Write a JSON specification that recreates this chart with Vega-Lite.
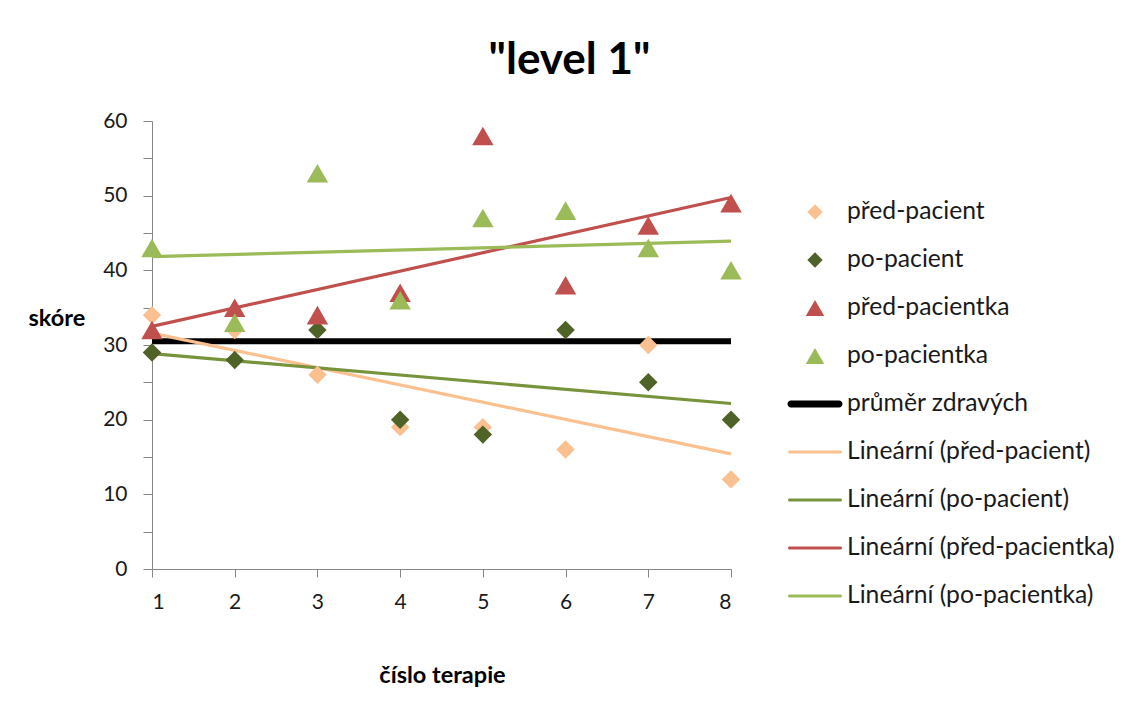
{
  "$schema": "https://vega.github.io/schema/vega-lite/v6.json",
  "autosize": "none",
  "width": 579,
  "height": 448,
  "padding": {"left": 152, "top": 121, "right": 395, "bottom": 136},
  "background": "white",
  "title": {"text": "\"level 1\"", "font": "Lato", "fontSize": 44, "fontWeight": "bold", "color": "#000000", "anchor": "middle", "frame": "group", "dx": 128, "offset": 27},
  "config": {
    "view": {"stroke": null},
    "axis": {"grid": false, "domainColor": "#868686", "tickColor": "#868686", "domainWidth": 1, "tickWidth": 1, "labelFont": "Lato", "labelFontSize": 21, "labelColor": "#1a1a1a", "titleFont": "Lato", "titleFontSize": 23.5, "titleFontWeight": "bold", "titleColor": "#000000"}
  },
  "datasets": {
    "points": [
      {"x": 1, "y": 34, "series": "před-pacient", "trend": "Lineární (před-pacient)", "type": "pacient"},
      {"x": 2, "y": 32, "series": "před-pacient", "trend": "Lineární (před-pacient)", "type": "pacient"},
      {"x": 3, "y": 26, "series": "před-pacient", "trend": "Lineární (před-pacient)", "type": "pacient"},
      {"x": 4, "y": 19, "series": "před-pacient", "trend": "Lineární (před-pacient)", "type": "pacient"},
      {"x": 5, "y": 19, "series": "před-pacient", "trend": "Lineární (před-pacient)", "type": "pacient"},
      {"x": 6, "y": 16, "series": "před-pacient", "trend": "Lineární (před-pacient)", "type": "pacient"},
      {"x": 7, "y": 30, "series": "před-pacient", "trend": "Lineární (před-pacient)", "type": "pacient"},
      {"x": 8, "y": 12, "series": "před-pacient", "trend": "Lineární (před-pacient)", "type": "pacient"},
      {"x": 1, "y": 29, "series": "po-pacient", "trend": "Lineární (po-pacient)", "type": "pacient"},
      {"x": 2, "y": 28, "series": "po-pacient", "trend": "Lineární (po-pacient)", "type": "pacient"},
      {"x": 3, "y": 32, "series": "po-pacient", "trend": "Lineární (po-pacient)", "type": "pacient"},
      {"x": 4, "y": 20, "series": "po-pacient", "trend": "Lineární (po-pacient)", "type": "pacient"},
      {"x": 5, "y": 18, "series": "po-pacient", "trend": "Lineární (po-pacient)", "type": "pacient"},
      {"x": 6, "y": 32, "series": "po-pacient", "trend": "Lineární (po-pacient)", "type": "pacient"},
      {"x": 7, "y": 25, "series": "po-pacient", "trend": "Lineární (po-pacient)", "type": "pacient"},
      {"x": 8, "y": 20, "series": "po-pacient", "trend": "Lineární (po-pacient)", "type": "pacient"},
      {"x": 1, "y": 32, "series": "před-pacientka", "trend": "Lineární (před-pacientka)", "type": "pacientka"},
      {"x": 2, "y": 35, "series": "před-pacientka", "trend": "Lineární (před-pacientka)", "type": "pacientka"},
      {"x": 3, "y": 34, "series": "před-pacientka", "trend": "Lineární (před-pacientka)", "type": "pacientka"},
      {"x": 4, "y": 37, "series": "před-pacientka", "trend": "Lineární (před-pacientka)", "type": "pacientka"},
      {"x": 5, "y": 58, "series": "před-pacientka", "trend": "Lineární (před-pacientka)", "type": "pacientka"},
      {"x": 6, "y": 38, "series": "před-pacientka", "trend": "Lineární (před-pacientka)", "type": "pacientka"},
      {"x": 7, "y": 46, "series": "před-pacientka", "trend": "Lineární (před-pacientka)", "type": "pacientka"},
      {"x": 8, "y": 49, "series": "před-pacientka", "trend": "Lineární (před-pacientka)", "type": "pacientka"},
      {"x": 1, "y": 43, "series": "po-pacientka", "trend": "Lineární (po-pacientka)", "type": "pacientka"},
      {"x": 2, "y": 33, "series": "po-pacientka", "trend": "Lineární (po-pacientka)", "type": "pacientka"},
      {"x": 3, "y": 53, "series": "po-pacientka", "trend": "Lineární (po-pacientka)", "type": "pacientka"},
      {"x": 4, "y": 36, "series": "po-pacientka", "trend": "Lineární (po-pacientka)", "type": "pacientka"},
      {"x": 5, "y": 47, "series": "po-pacientka", "trend": "Lineární (po-pacientka)", "type": "pacientka"},
      {"x": 6, "y": 48, "series": "po-pacientka", "trend": "Lineární (po-pacientka)", "type": "pacientka"},
      {"x": 7, "y": 43, "series": "po-pacientka", "trend": "Lineární (po-pacientka)", "type": "pacientka"},
      {"x": 8, "y": 40, "series": "po-pacientka", "trend": "Lineární (po-pacientka)", "type": "pacientka"}
    ],
    "avg": [
      {"x": 1, "y": 30.5, "series": "průměr zdravých"},
      {"x": 2, "y": 30.5, "series": "průměr zdravých"},
      {"x": 3, "y": 30.5, "series": "průměr zdravých"},
      {"x": 4, "y": 30.5, "series": "průměr zdravých"},
      {"x": 5, "y": 30.5, "series": "průměr zdravých"},
      {"x": 6, "y": 30.5, "series": "průměr zdravých"},
      {"x": 7, "y": 30.5, "series": "průměr zdravých"},
      {"x": 8, "y": 30.5, "series": "průměr zdravých"}
    ]
  },
  "encoding": {
    "x": {"field": "x", "type": "quantitative", "scale": {"domain": [1, 8], "nice": false, "zero": false},
      "axis": {"values": [1, 2, 3, 4, 5, 6, 7, 8], "tickSize": 8, "labelPadding": 14, "title": "číslo terapie", "titleAnchor": "middle", "titleBaseline": "alphabetic", "titleY": 113, "titleX": 290}},
    "y": {"field": "y", "type": "quantitative", "scale": {"domain": [0, 60], "nice": false},
      "axis": {"values": [0, 5, 10, 15, 20, 25, 30, 35, 40, 45, 50, 55, 60], "labelExpr": "datum.value % 10 === 0 ? datum.label : ''", "tickSize": 9, "labelPadding": 16, "title": "skóre", "titleAngle": 0, "titleAlign": "left", "titleBaseline": "middle", "titleX": -124, "titleY": 197}}
  },
  "layer": [
    {
      "data": {"name": "avg"},
      "mark": {"type": "line", "strokeWidth": 6, "strokeCap": "butt"},
      "encoding": {
        "color": {"field": "series", "type": "nominal",
          "scale": {"domain": ["před-pacient", "po-pacient", "před-pacientka", "po-pacientka", "průměr zdravých", "Lineární (před-pacient)", "Lineární (po-pacient)", "Lineární (před-pacientka)", "Lineární (po-pacientka)"],
                    "range": ["#FAC090", "#4F6228", "#C0504D", "#9BBB59", "#000000", "#FAC090", "#77933C", "#C0504D", "#9BBB59"]},
          "legend": {"title": null, "orient": "none", "legendX": 639, "legendY": 67, "labelFont": "Lato", "labelFontSize": 24.7, "labelLimit": 400, "labelColor": "#1a1a1a", "labelOffset": 8, "symbolSize": 2304, "symbolStrokeWidth": 0, "rowPadding": 12,
            "encode": {"symbols": {"update": {
              "shape": {"signal": "indexof(['před-pacient','po-pacient'], datum.value) >= 0 ? 'M-0.32,0L0,-0.32L0.32,0L0,0.32Z' : (indexof(['před-pacientka','po-pacientka'], datum.value) >= 0 ? 'M0,-0.33L0.385,0.33L-0.385,0.33Z' : (datum.value === 'průměr zdravých' ? 'M-1.0,-0.145L1.0,-0.145A0.145,0.145 0 0 1 1.0,0.145L-1.0,0.145A0.145,0.145 0 0 1 -1.0,-0.145Z' : 'M-1.06,-0.065L1.06,-0.065A0.065,0.065 0 0 1 1.06,0.065L-1.06,0.065A0.065,0.065 0 0 1 -1.06,-0.065Z'))"},
              "fill": {"scale": "color", "field": "value"},
              "opacity": {"value": 1},
              "fillOpacity": {"value": 1}
            }}}}
        }
      }
    },
    {
      "data": {"name": "points"},
      "transform": [{"regression": "y", "on": "x", "groupby": ["trend"], "extent": [1, 8]}],
      "mark": {"type": "line", "strokeWidth": 3.2},
      "encoding": {"color": {"field": "trend", "type": "nominal"}}
    },
    {
      "data": {"name": "points"},
      "transform": [{"filter": "datum.type === 'pacient'"}],
      "mark": {"type": "point", "shape": "diamond", "filled": true, "size": 340, "opacity": 1, "strokeWidth": 0},
      "encoding": {"color": {"field": "series", "type": "nominal"}}
    },
    {
      "data": {"name": "points"},
      "transform": [{"filter": "datum.type === 'pacientka'"}],
      "mark": {"type": "point", "shape": "triangle-up", "filled": true, "size": 460, "opacity": 1, "strokeWidth": 0},
      "encoding": {"color": {"field": "series", "type": "nominal"}}
    }
  ]
}
